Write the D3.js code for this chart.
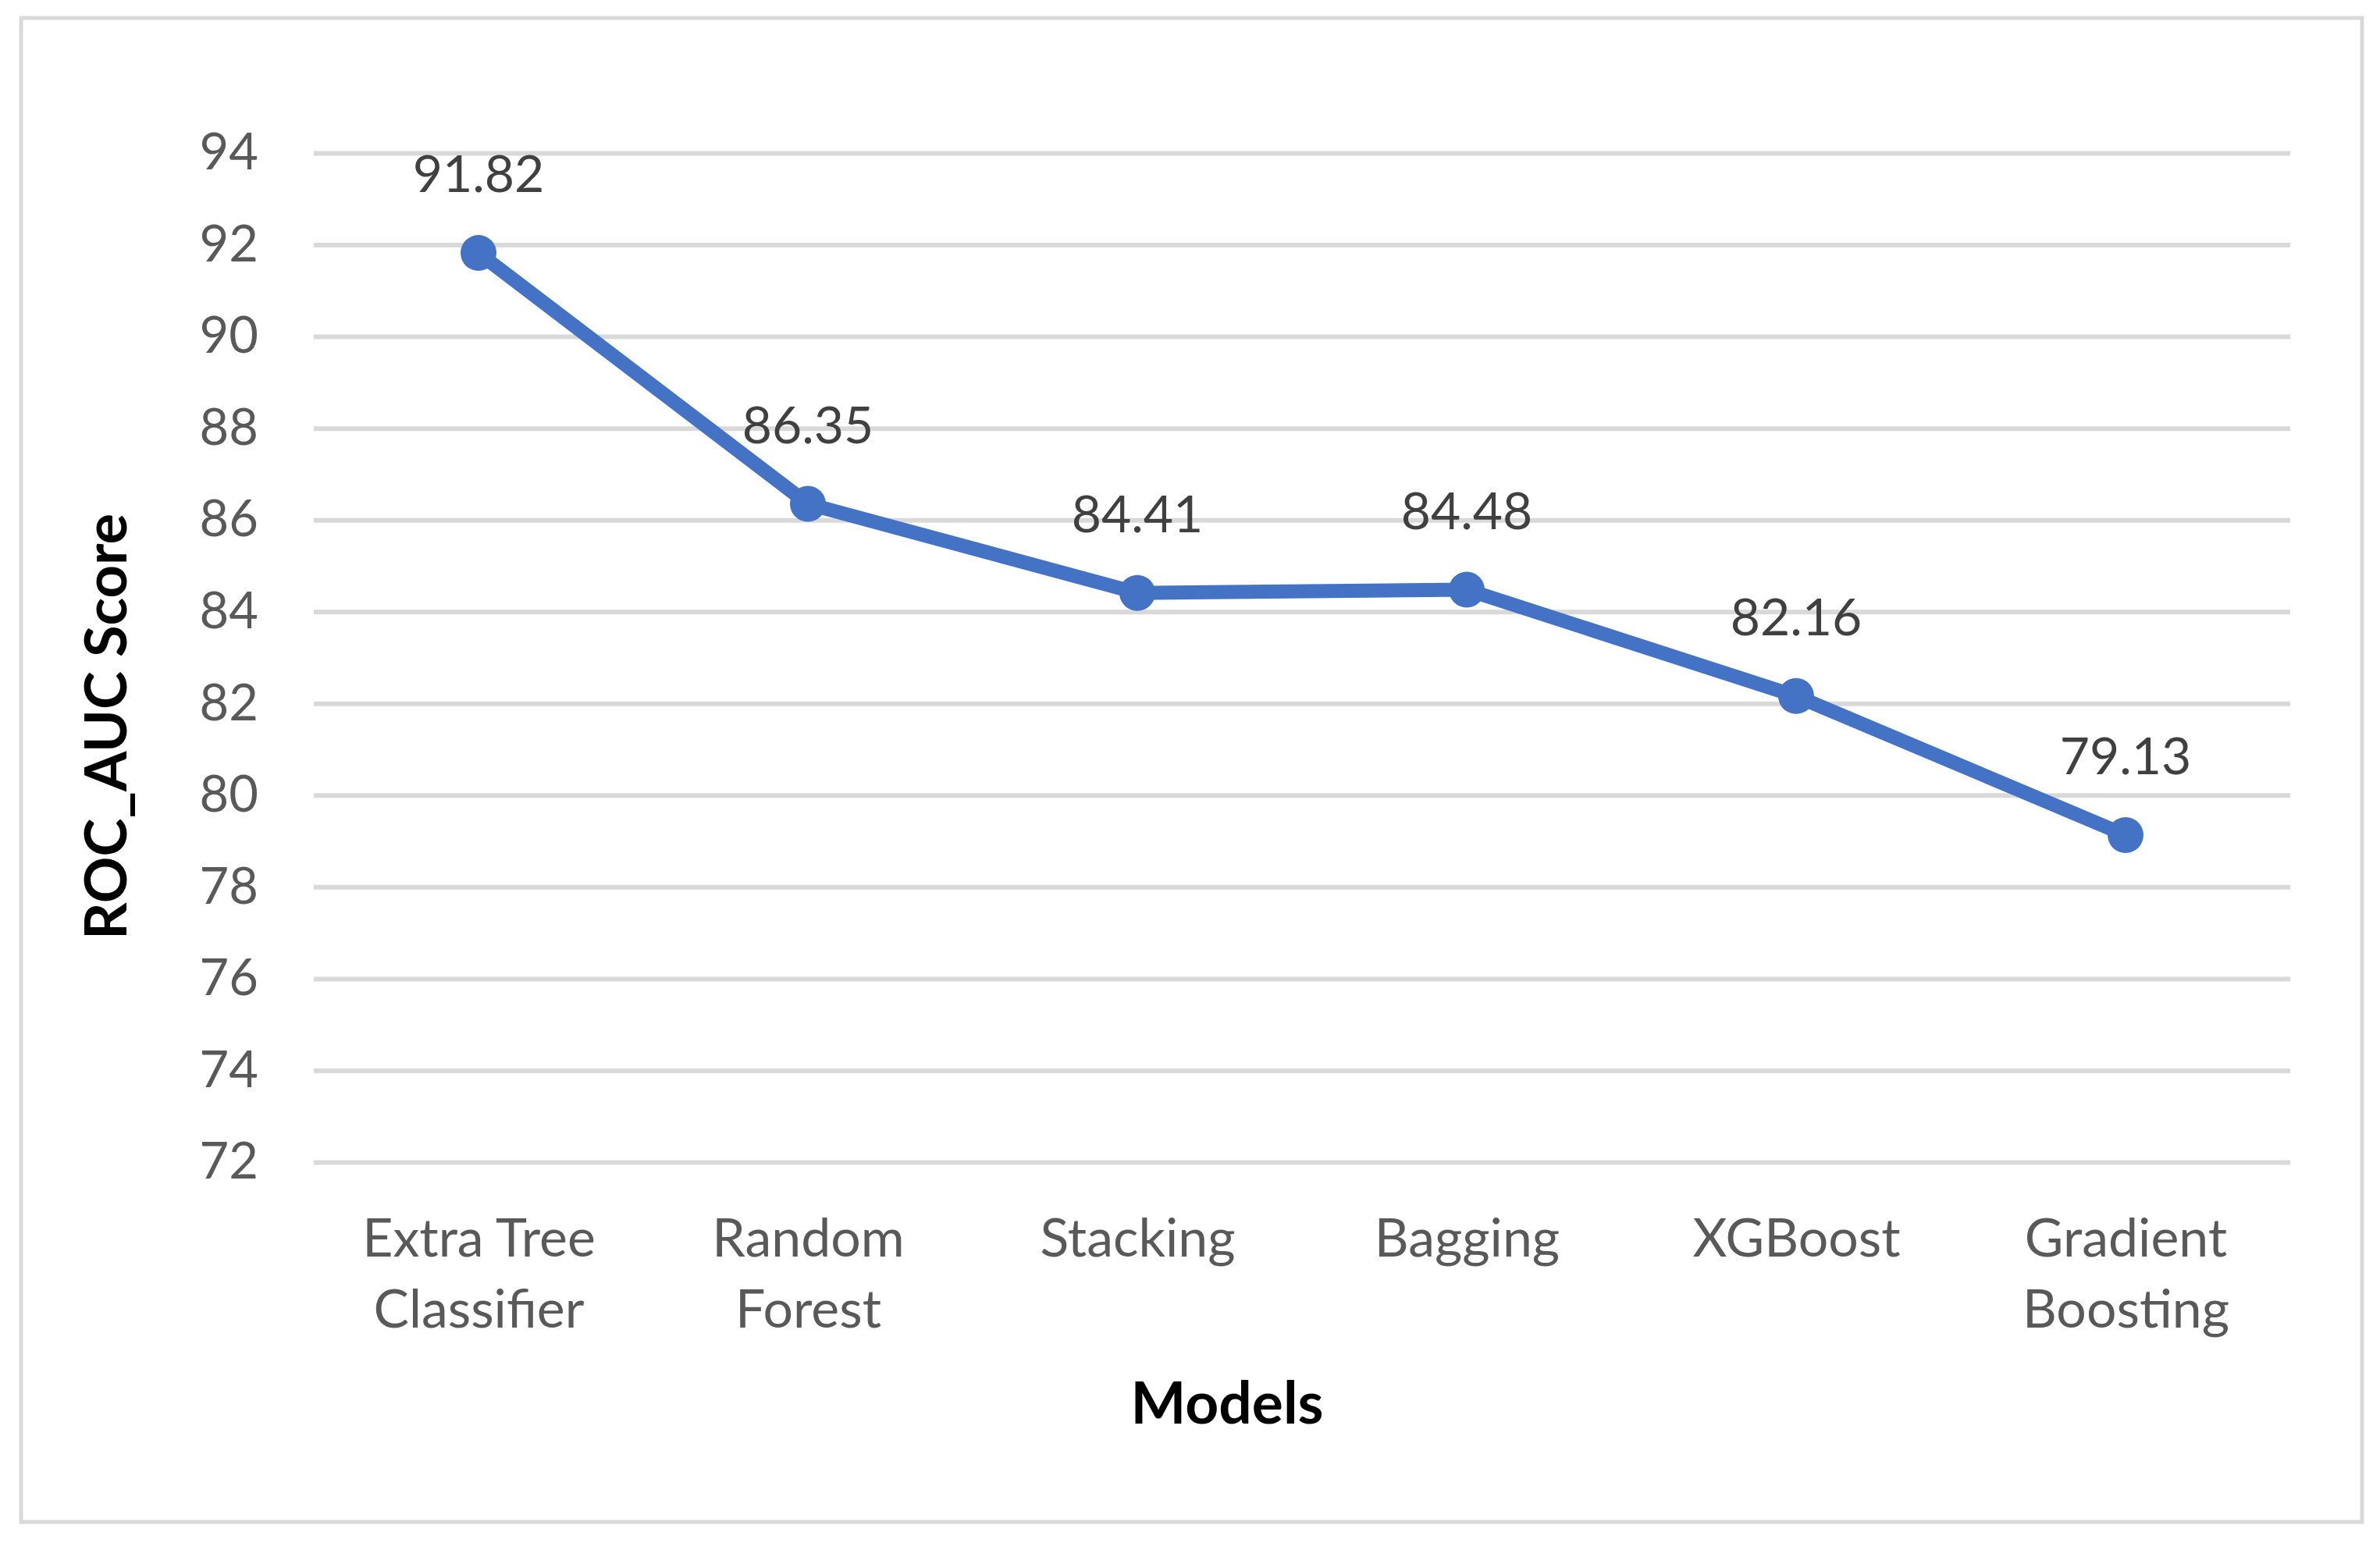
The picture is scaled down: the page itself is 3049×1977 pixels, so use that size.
<!DOCTYPE html>
<html>
<head>
<meta charset="utf-8">
<script src="https://cdn.jsdelivr.net/npm/d3@7"></script>
<style>
	html, body { margin: 0; padding: 0; background: #fff; }
	svg { display: block; font-family: Lato, "Open Sans", sans-serif; }
</style>
</head>
<body>
<div id="chart"></div>
<script>
(function() {

const models = ["Extra Tree Classifier", "Random Forest", "Stacking", "Bagging", "XGBoost", "Gradient Boosting"];
const rocAuc = [91.82, 86.35, 84.41, 84.48, 82.16, 79.13];
const yTicks = [72, 74, 76, 78, 80, 82, 84, 86, 88, 90, 92, 94];

const width = 3049, height = 1977;
const plot = { left: 402, right: 2934, top: 196, bottom: 1489 };

const svg = d3.select("#chart").append("svg")
	.attr("width", width)
	.attr("height", height);

// outer frame
svg.append("rect")
	.attr("x", 27).attr("y", 23)
	.attr("width", 2999).attr("height", 1927)
	.attr("fill", "#fff")
	.attr("stroke", "#d9d9d9")
	.attr("stroke-width", 5);

const x = d3.scalePoint()
	.domain(models)
	.range([plot.left, plot.right])
	.padding(0.5);

const y = d3.scaleLinear()
	.domain([72, 94])
	.range([plot.bottom, plot.top]);

// y axis + gridlines
const yAxis = svg.append("g")
	.attr("transform", "translate(" + plot.left + ",0)")
	.call(d3.axisLeft(y)
		.tickValues(yTicks)
		.tickSize(-(plot.right - plot.left))
		.tickPadding(71));

yAxis.select(".domain").remove();
yAxis.selectAll(".tick line")
	.attr("stroke", "#d9d9d9")
	.attr("stroke-width", 6);
yAxis.selectAll(".tick text")
	.attr("fill", "#595959")
	.attr("font-size", 65)
	.attr("font-family", "Lato, sans-serif");

// x axis labels
const xAxis = svg.append("g")
	.attr("transform", "translate(0," + plot.bottom + ")")
	.call(d3.axisBottom(x).tickSize(0).tickPadding(0));

xAxis.select(".domain").remove();
xAxis.selectAll(".tick text")
	.attr("fill", "#595959")
	.attr("font-size", 68)
	.attr("font-family", "Lato, sans-serif")
	.attr("dy", null)
	.attr("y", 0)
	.each(function(d) { wrap(d3.select(this), d, 350); });

function wrap(text, label, maxWidth) {
	let words = label.split(" ");
	let lines = [];
	let line = [];
	text.text(null);
	let probe = text.append("tspan");
	words.forEach(function(w) {
		line.push(w);
		probe.text(line.join(" "));
		if (probe.node().getComputedTextLength() > maxWidth && line.length > 1) {
			line.pop();
			lines.push(line.join(" "));
			line = [w];
		}
	});
	lines.push(line.join(" "));
	probe.remove();
	lines.forEach(function(l, i) {
		text.append("tspan")
			.attr("x", 0)
			.attr("y", 121 + i * 91)
			.text(l);
	});
}

// line + markers
const line = d3.line()
	.x(function(d, i) { return x(models[i]); })
	.y(function(d) { return y(d); });

svg.append("path")
	.datum(rocAuc)
	.attr("d", line)
	.attr("fill", "none")
	.attr("stroke", "#4472c4")
	.attr("stroke-width", 18)
	.attr("stroke-linejoin", "round");

svg.selectAll("circle.pt")
	.data(rocAuc)
	.enter().append("circle")
	.attr("class", "pt")
	.attr("cx", function(d, i) { return x(models[i]); })
	.attr("cy", function(d) { return y(d); })
	.attr("r", 23)
	.attr("fill", "#4472c4");

// data labels
svg.selectAll("text.lbl")
	.data(rocAuc)
	.enter().append("text")
	.attr("class", "lbl")
	.attr("x", function(d, i) { return x(models[i]); })
	.attr("y", function(d) { return y(d) - 78; })
	.attr("text-anchor", "middle")
	.attr("fill", "#404040")
	.attr("font-size", 66)
	.text(function(d) { return d.toFixed(2); });

// axis titles
svg.append("text")
	.attr("x", 1572)
	.attr("y", 1824)
	.attr("text-anchor", "middle")
	.attr("font-size", 75)
	.attr("font-weight", "bold")
	.attr("fill", "#000")
	.text("Models");

svg.append("text")
	.attr("transform", "translate(162,931) rotate(-90)")
	.attr("text-anchor", "middle")
	.attr("font-size", 74)
	.attr("font-weight", "bold")
	.attr("fill", "#000")
	.text("ROC_AUC Score");

})();
</script>
</body>
</html>
